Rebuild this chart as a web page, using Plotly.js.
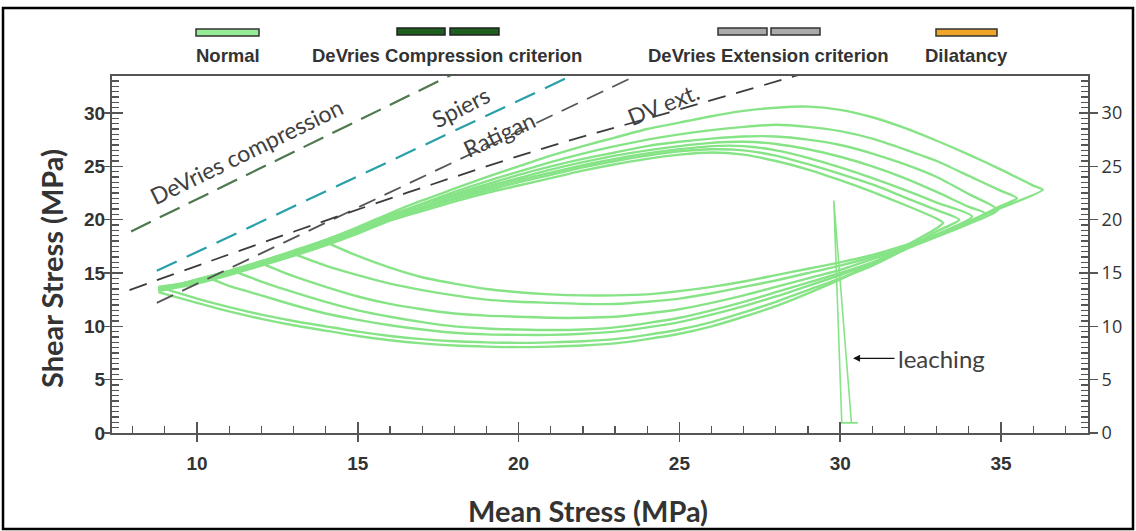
<!DOCTYPE html>
<html>
<head>
<meta charset="utf-8">
<script src="https://cdn.plot.ly/plotly-3.0.1.min.js"></script>
<style>html,body{margin:0;padding:0;background:#fff;}#chart{width:1136px;height:531px;}</style>
</head>
<body>
<div id="chart"></div>
<script>
// ---------- data ----------
const legendLabels = ["Normal", "DeVries Compression criterion", "DeVries Extension criterion", "Dilatancy"];
const criterionLabels = ["DeVries compression", "Spiers", "Ratigan", "DV ext."];

const loop1UpX = [8.8,9.5,10,11,12,13,14,15,16,17,18,19,20,21,22,23,24,25,26,27,28,29,30,31,32,33,33.2];
const loop1UpY = [13.3,13.7,14.0,14.8,15.7,16.6,17.6,18.7,19.9,20.8,21.7,22.5,23.2,23.9,24.6,25.2,25.7,26.1,26.3,26.1,25.5,24.7,23.7,22.6,21.4,20.1,19.7];
const loop1LoX = [33,32,31,30,29,28,27,26,25,24,23,22,21,20,19,18,17,16,15,14,13,12,11,10,8.8];
const loop1LoY = [19.2,17.5,15.9,14.4,13.1,11.9,10.9,10.0,9.3,8.8,8.4,8.2,8.1,8.05,8.1,8.2,8.4,8.7,9.1,9.6,10.1,10.7,11.4,12.2,13.2];

const loop2UpX = [8.8,9.5,10,11,12,13,14,15,16,17,18,19,20,21,22,23,24,25,26,27,28,29,30,31,32,33,33.7];
const loop2UpY = [13.4,13.8,14.1,14.9,15.8,16.7,17.7,18.8,20.0,21.0,21.9,22.7,23.5,24.2,24.9,25.5,26.0,26.4,26.6,26.5,26.0,25.2,24.3,23.3,22.1,20.9,20.0];
const loop2LoX = [33,32,31,30,29,28,27,26,25,24,23,22,21,20,19,18,17,16,15,14,13,12,11,10,8.9];
const loop2LoY = [18.9,17.2,15.7,14.5,13.4,12.3,11.3,10.4,9.7,9.2,8.8,8.6,8.5,8.45,8.5,8.6,8.8,9.1,9.5,10.0,10.5,11.1,11.8,12.6,13.6];

const loop3UpX = [8.8,9.5,10,11,12,13,14,15,16,17,18,19,20,21,22,23,24,25,26,27,28,29,30,31,32,33,34.1];
const loop3UpY = [13.5,13.8,14.2,15.0,15.9,16.8,17.9,18.9,20.1,21.1,22.0,22.9,23.7,24.4,25.1,25.7,26.2,26.6,26.9,26.9,26.5,25.8,24.9,23.9,22.8,21.6,20.3];
const loop3LoX = [33,32,31,30,29,28,27,26,25,24,23,22,21,20,19,18,17,16,15,14,13,12,11,10.4];
const loop3LoY = [18.6,17.2,15.9,14.8,13.8,12.8,11.9,11.1,10.4,9.9,9.5,9.3,9.2,9.2,9.25,9.4,9.7,10.1,10.6,11.2,12.0,12.9,13.8,14.5];

const loop4UpX = [8.8,9.5,10,11,12,13,14,15,16,17,18,19,20,21,22,23,24,25,26,27,28,29,30,31,32,33,34,34.5];
const loop4UpY = [13.5,13.9,14.3,15.1,16.0,16.9,18.0,19.0,20.2,21.2,22.2,23.1,23.9,24.7,25.4,26.0,26.5,26.9,27.2,27.3,27.1,26.6,25.9,25.0,23.9,22.6,21.2,20.6];
const loop4LoX = [34,33,32,31,30,29,28,27,26,25,24,23,22,21,20,19,18,17,16,15,14,13,12,11.2];
const loop4LoY = [19.8,18.4,17.2,16.0,15.0,14.1,13.2,12.3,11.5,10.8,10.3,9.9,9.7,9.65,9.7,9.8,10.0,10.4,10.9,11.5,12.3,13.2,14.2,15.1];

const loop5UpX = [8.8,9.5,10,11,12,13,14,15,16,17,18,19,20,21,22,23,24,25,26,27,28,29,30,31,32,33,34,34.9];
const loop5UpY = [13.6,13.9,14.3,15.1,16.0,17.0,18.0,19.1,20.3,21.4,22.4,23.3,24.2,25.0,25.7,26.3,26.9,27.3,27.6,27.8,27.8,27.5,27.0,26.2,25.2,24.0,22.4,20.9];
const loop5LoX = [34,33,32,31,30,29,28,27,26,25,24,23,22,21,20,19,18,17,16,15,14,13,12];
const loop5LoY = [19.6,18.4,17.3,16.3,15.3,14.5,13.7,12.9,12.2,11.6,11.2,10.9,10.8,10.8,10.9,11.0,11.2,11.6,12.1,12.8,13.7,14.7,15.9];

const loop6UpX = [8.8,9.5,10,11,12,13,14,15,16,17,18,19,20,21,22,23,24,25,26,27,28,29,30,31,32,33,34,35,35.5];
const loop6UpY = [13.6,14.0,14.4,15.2,16.1,17.0,18.1,19.2,20.4,21.5,22.6,23.6,24.5,25.4,26.2,26.9,27.5,28.0,28.4,28.7,28.9,28.7,28.3,27.6,26.6,25.5,24.1,22.7,22.0];
const loop6LoX = [35,34,33,32,31,30,29,28,27,26,25,24,23,22,21,20,19,18,17,16,15,14,13];
const loop6LoY = [21.3,19.8,18.5,17.4,16.5,15.7,15.0,14.3,13.7,13.1,12.6,12.3,12.1,12.1,12.2,12.3,12.5,12.9,13.4,14.0,14.8,15.7,16.8];

const loop7UpX = [8.8,9.5,10,11,12,13,14,15,16,17,18,19,20,21,22,23,24,25,26,27,28,29,30,31,32,33,34,35,36,36.3];
const loop7UpY = [13.7,14.0,14.4,15.2,16.1,17.1,18.1,19.3,20.6,21.8,22.9,24.0,25.0,26.0,26.9,27.7,28.5,29.1,29.7,30.2,30.5,30.6,30.3,29.6,28.6,27.4,26.1,24.7,23.2,22.8];
const loop7LoX = [35,34,33,32,31,30,29,28,27,26,25,24,23,22,21,20,19,18,17,16,15,14];
const loop7LoY = [21.1,19.8,18.6,17.6,16.7,16.0,15.4,14.8,14.2,13.7,13.3,13.0,12.9,12.9,13.0,13.2,13.5,14.0,14.6,15.5,16.6,17.9];

const leachingX = [30.55, 30.05, 29.8, 30.35];
const leachingY = [0.95, 0.95, 21.8, 0.95];

const devriesCompX = [7.95, 18.2];
const devriesCompY = [18.9, 34.0];
const spiersX = [8.75, 22.0];
const spiersY = [15.2, 34.0];
const ratiganX = [8.75, 24.0];
const ratiganY = [12.2, 34.0];
const dvExtX = [7.9, 10.4, 13.7, 17.3, 21.0, 24.5, 28.6, 29.2];
const dvExtY = [13.4, 16.1, 19.6, 23.3, 26.9, 29.9, 33.47, 34.0];

const xRange = [7.357, 37.705];
const yRange = [0, 33.47];

// ---------- traces ----------
const green = 'rgb(134,228,134)';
const loops = [
  [loop1UpX, loop1UpY, loop1LoX, loop1LoY],
  [loop2UpX, loop2UpY, loop2LoX, loop2LoY],
  [loop3UpX, loop3UpY, loop3LoX, loop3LoY],
  [loop4UpX, loop4UpY, loop4LoX, loop4LoY],
  [loop5UpX, loop5UpY, loop5LoX, loop5LoY],
  [loop6UpX, loop6UpY, loop6LoX, loop6LoY],
  [loop7UpX, loop7UpY, loop7LoX, loop7LoY]
];
const traces = [];
loops.forEach(l => {
  traces.push({
    x: l[0].concat(l[2]), y: l[1].concat(l[3]),
    mode: 'lines', line: {color: green, width: 2.4, shape: 'spline', smoothing: 0.6},
    hoverinfo: 'skip'
  });
});
traces.push({x: leachingX, y: leachingY, mode: 'lines', line: {color: green, width: 1.6}, hoverinfo: 'skip'});
traces.push({x: devriesCompX, y: devriesCompY, mode: 'lines', line: {color: 'rgb(78,120,78)', width: 2.2, dash: '22px,10px'}});
traces.push({x: spiersX, y: spiersY, mode: 'lines', line: {color: 'rgb(40,160,170)', width: 2.2, dash: '22px,11px'}});
traces.push({x: ratiganX, y: ratiganY, mode: 'lines', line: {color: 'rgb(85,85,85)', width: 1.8, dash: '18px,10px'}});
traces.push({x: dvExtX, y: dvExtY, mode: 'lines', line: {color: 'rgb(60,60,60)', width: 1.8, dash: '18px,11px', shape: 'spline'}});
// empty traces to activate the overlay tick axes
traces.push({x: [], y: [], xaxis: 'x2', yaxis: 'y2', mode: 'lines'});
traces.push({x: [], y: [], xaxis: 'x', yaxis: 'y3', mode: 'lines'});
traces.push({x: [], y: [], xaxis: 'x', yaxis: 'y4', mode: 'lines'});

// ---------- layout ----------
const axCol = '#555';
const boldFam = '"Liberation Sans", Arial, sans-serif';
const legendFont = {family: boldFam, size: 18.5, color: '#333', weight: 'bold'};
const tickBold = {family: boldFam, size: 19, color: '#333', weight: 'bold'};
const txtFont = {family: 'Lato, "Open Sans", sans-serif', size: 23, color: '#404040'};
const titleFont = {family: 'Lato, "Open Sans", sans-serif', size: 29, color: '#333', weight: 'bold'};

const L = 112, R = 1088, T = 76, B = 433;
const px = v => (v - L) / (R - L);
const py = v => (B - v) / (B - T);

const shapes = [
  {type: 'rect', xref: 'paper', yref: 'paper', x0: px(3), x1: px(1133), y0: py(529), y1: py(8), line: {color: '#000', width: 2.5}},
  {type: 'rect', xref: 'paper', yref: 'paper', x0: px(196), x1: px(259), y0: py(36), y1: py(29), fillcolor: 'rgb(150,236,150)', line: {color: '#333', width: 1.5}},
  {type: 'rect', xref: 'paper', yref: 'paper', x0: px(397), x1: px(445), y0: py(35), y1: py(28), fillcolor: 'rgb(30,95,30)', line: {color: '#222', width: 1.5}},
  {type: 'rect', xref: 'paper', yref: 'paper', x0: px(450), x1: px(499), y0: py(35), y1: py(28), fillcolor: 'rgb(30,95,30)', line: {color: '#222', width: 1.5}},
  {type: 'rect', xref: 'paper', yref: 'paper', x0: px(718), x1: px(767), y0: py(35), y1: py(28), fillcolor: 'rgb(170,170,170)', line: {color: '#333', width: 1.5}},
  {type: 'rect', xref: 'paper', yref: 'paper', x0: px(771), x1: px(820), y0: py(35), y1: py(28), fillcolor: 'rgb(170,170,170)', line: {color: '#333', width: 1.5}},
  {type: 'rect', xref: 'paper', yref: 'paper', x0: px(936), x1: px(997), y0: py(36), y1: py(29), fillcolor: 'rgb(240,165,40)', line: {color: '#333', width: 1.5}}
];

const legendCenters = [228, 447, 768, 966];
const annotations = legendLabels.map((t, i) => ({
  text: t, xref: 'paper', yref: 'paper', x: px(legendCenters[i]), y: py(56),
  xanchor: 'center', yanchor: 'middle', showarrow: false, font: legendFont
}));
annotations.push(
  {text: criterionLabels[0], x: 11.55, y: 26.4, showarrow: false, textangle: -26, font: txtFont},
  {text: criterionLabels[1], x: 18.18, y: 30.6, showarrow: false, textangle: -27, font: txtFont},
  {text: criterionLabels[2], x: 19.4, y: 28.05, showarrow: false, textangle: -25, font: txtFont},
  {text: criterionLabels[3], x: 24.5, y: 30.8, showarrow: false, textangle: -22, font: txtFont},
  {text: 'leaching', x: 30.4, y: 7.0, ax: 31.75, ay: 7.0, axref: 'x', ayref: 'y', xanchor: 'left',
   showarrow: true, arrowhead: 2, arrowsize: 1, arrowwidth: 1.4, arrowcolor: '#111', standoff: 0, startstandoff: 2,
   font: {family: 'Lato, "Open Sans", sans-serif', size: 24, color: '#404040'}},
  {text: 'Shear Stress (MPa)', xref: 'paper', yref: 'paper', x: px(51), y: py(269), textangle: -90, showarrow: false,
   xanchor: 'center', yanchor: 'middle', font: titleFont},
  {text: 'Mean Stress (MPa)', xref: 'paper', yref: 'paper', x: px(588), y: py(510), showarrow: false,
   xanchor: 'center', yanchor: 'middle', font: titleFont}
);

const layout = {
  width: 1136, height: 531,
  margin: {l: L, r: 1136 - R, t: T, b: 531 - B},
  paper_bgcolor: '#fff', plot_bgcolor: '#fff',
  showlegend: false,
  xaxis: {range: xRange, tickmode: 'linear', tick0: 0, dtick: 5, ticks: 'inside', ticklen: 11, tickwidth: 1.5, tickcolor: axCol,
          minor: {tick0: 0, dtick: 1, ticks: 'inside', ticklen: 7, tickwidth: 1.2, tickcolor: axCol, showgrid: false},
          showline: true, linecolor: axCol, linewidth: 2, mirror: true, showgrid: false, zeroline: false,
          tickfont: tickBold, ticklabelstandoff: 12},
  xaxis2: {range: xRange, overlaying: 'x', anchor: 'y', side: 'bottom', tickmode: 'linear', tick0: 0, dtick: 5,
           ticks: 'outside', ticklen: 8, tickwidth: 1.5, tickcolor: axCol, showticklabels: false,
           showline: false, showgrid: false, zeroline: false},
  yaxis: {range: yRange, tickmode: 'linear', tick0: 0, dtick: 5, ticks: 'inside', ticklen: 11, tickwidth: 1.5, tickcolor: axCol,
          minor: {tick0: 0, dtick: 0.5, ticks: 'inside', ticklen: 7, tickwidth: 1.2, tickcolor: axCol, showgrid: false},
          showline: true, linecolor: axCol, linewidth: 2, showgrid: false, zeroline: false,
          tickfont: tickBold, ticklabelstandoff: 1},
  yaxis2: {range: yRange, overlaying: 'y', anchor: 'x', side: 'left', tickmode: 'linear', tick0: 0, dtick: 5,
           ticks: 'outside', ticklen: 7, tickwidth: 1.5, tickcolor: axCol, showticklabels: false,
           showline: false, showgrid: false, zeroline: false},
  yaxis3: {range: yRange, overlaying: 'y', anchor: 'x', side: 'right', tickmode: 'linear', tick0: 0, dtick: 5,
           ticks: 'inside', ticklen: 9, tickwidth: 1.5, tickcolor: axCol,
           minor: {tick0: 0, dtick: 0.5, ticks: 'inside', ticklen: 7, tickwidth: 1.2, tickcolor: axCol, showgrid: false},
           showline: true, linecolor: axCol, linewidth: 2, showgrid: false, zeroline: false,
           tickfont: {family: '"Open Sans", Lato, sans-serif', size: 18, color: '#333'}, ticklabelstandoff: 8},
  yaxis4: {range: yRange, overlaying: 'y', anchor: 'x', side: 'right', tickmode: 'linear', tick0: 0, dtick: 5,
           ticks: 'outside', ticklen: 9, tickwidth: 1.5, tickcolor: axCol, showticklabels: false,
           showline: false, showgrid: false, zeroline: false},
  shapes: shapes,
  annotations: annotations
};

Plotly.newPlot('chart', traces, layout, {staticPlot: true, displayModeBar: false});
</script>
</body>
</html>
